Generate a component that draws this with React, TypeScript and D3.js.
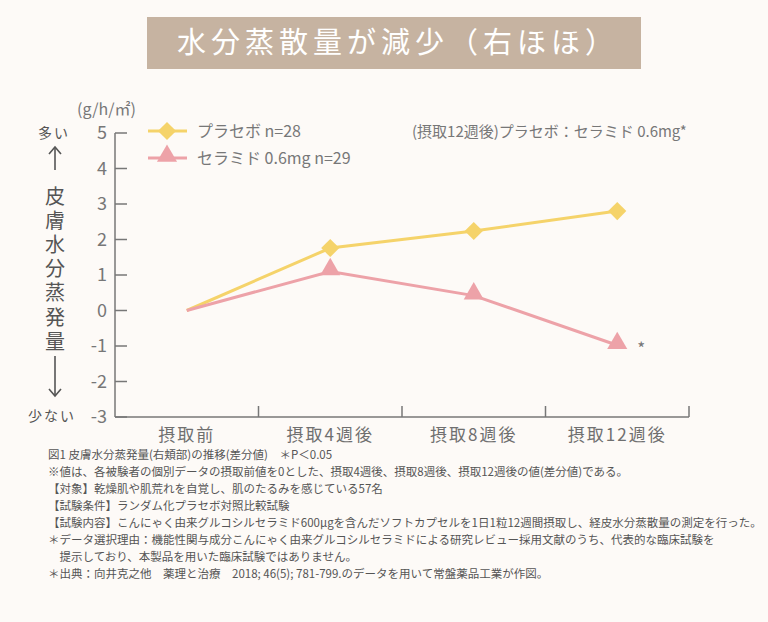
import { useRef, useEffect } from "react";
import * as d3 from "d3";

const categories = ["摂取前", "摂取4週後", "摂取8週後", "摂取12週後"];
const placeboValues = [0, 1.76, 2.24, 2.8];
const ceramideValues = [0, 1.1, 0.42, -0.98];
const yTicks = [-3, -2, -1, 0, 1, 2, 3, 4, 5];
const seriesNames = ["プラセボ n=28", "セラミド 0.6mg n=29"];
const yLabel = "皮膚水分蒸発量";
const footnotes = [
  "図1 皮膚水分蒸発量(右頬部)の推移(差分値)　＊P＜0.05",
  "※値は、各被験者の個別データの摂取前値を0とした、摂取4週後、摂取8週後、摂取12週後の値(差分値)である。",
  "【対象】乾燥肌や肌荒れを自覚し、肌のたるみを感じている57名",
  "【試験条件】ランダム化プラセボ対照比較試験",
  "【試験内容】こんにゃく由来グルコシルセラミド600μgを含んだソフトカプセルを1日1粒12週間摂取し、経皮水分蒸散量の測定を行った。",
  "＊データ選択理由：機能性関与成分こんにゃく由来グルコシルセラミドによる研究レビュー採用文献のうち、代表的な臨床試験を",
  "　提示しており、本製品を用いた臨床試験ではありません。",
  "＊出典：向井克之他　薬理と治療　2018; 46(5); 781-799.のデータを用いて常盤薬品工業が作図。",
];

const W = 768;
const H = 622;
const FONT = "'Noto Sans CJK JP', 'Noto Sans', sans-serif";
const YELLOW = "#f5d36a";
const PINK = "#eda2a8";
const GRAY = "#777";

export default function App() {
  const svgRef = useRef<SVGSVGElement>(null);

  useEffect(() => {
    if (!svgRef.current) return;
    const svg = d3.select(svgRef.current);
    svg.selectAll("*").remove();

    svg.append("rect").attr("width", W).attr("height", H).attr("fill", "#fdfaf7");

    // Title banner
    svg.append("rect")
      .attr("x", 147).attr("y", 17).attr("width", 494).attr("height", 52)
      .attr("fill", "#c6b3a1");
    svg.append("text")
      .attr("x", 398).attr("y", 53)
      .attr("text-anchor", "middle")
      .attr("fill", "#fff")
      .attr("font-family", FONT)
      .attr("font-size", "29px")
      .attr("letter-spacing", "5px")
      .text("水分蒸散量が減少（右ほほ）");

    // Scales
    const x = d3.scaleBand<string>().domain(categories).range([115, 689]).paddingInner(0).paddingOuter(0);
    const cx = (c: string) => (x(c) as number) + x.bandwidth() / 2;
    const y = d3.scaleLinear().domain([-3, 5]).range([417, 133]);

    const g = svg.append("g").attr("font-family", FONT);

    // Y axis
    g.append("line")
      .attr("x1", 115).attr("x2", 115).attr("y1", y(5)).attr("y2", y(-3))
      .attr("stroke", GRAY).attr("stroke-width", 1.5);
    g.selectAll(".ytick")
      .data(yTicks)
      .join("line")
      .attr("x1", 115).attr("x2", 127)
      .attr("y1", d => y(d)).attr("y2", d => y(d))
      .attr("stroke", GRAY).attr("stroke-width", 1.5);
    g.selectAll(".ylab")
      .data(yTicks)
      .join("text")
      .attr("x", 107)
      .attr("y", d => y(d) + 6)
      .attr("text-anchor", "end")
      .attr("fill", GRAY)
      .attr("font-size", "18px")
      .text(d => `${d}`);

    // X axis
    g.append("line")
      .attr("x1", 115).attr("x2", 689).attr("y1", y(-3)).attr("y2", y(-3))
      .attr("stroke", GRAY).attr("stroke-width", 1.5);
    g.selectAll(".xtick")
      .data(categories)
      .join("line")
      .attr("x1", d => (x(d) as number) + x.bandwidth())
      .attr("x2", d => (x(d) as number) + x.bandwidth())
      .attr("y1", y(-3)).attr("y2", y(-3) - 11)
      .attr("stroke", GRAY).attr("stroke-width", 1.5);
    g.selectAll(".xlab")
      .data(categories)
      .join("text")
      .attr("x", d => cx(d))
      .attr("y", 441)
      .attr("text-anchor", "middle")
      .attr("fill", "#6f6f6f")
      .attr("font-size", "17px")
      .attr("letter-spacing", "2px")
      .text(d => d);

    // Units and y label column
    g.append("text")
      .attr("x", 77).attr("y", 115)
      .attr("fill", GRAY).attr("font-size", "16px")
      .text("(g/h/㎡)");
    g.append("text")
      .attr("x", 54).attr("y", 138)
      .attr("text-anchor", "middle")
      .attr("fill", "#555").attr("font-size", "14px")
      .attr("letter-spacing", "2px")
      .text("多い");
    g.append("text")
      .attr("x", 52).attr("y", 421)
      .attr("text-anchor", "middle")
      .attr("fill", "#555").attr("font-size", "14px")
      .attr("letter-spacing", "2px")
      .text("少ない");
    g.append("text")
      .attr("x", 55)
      .attr("y", 186)
      .attr("writing-mode", "vertical-rl")
      .attr("fill", "#555")
      .attr("font-size", "20px")
      .attr("letter-spacing", "4.2px")
      .text(yLabel);
    // arrows
    const arrow = (y1: number, y2: number) => {
      g.append("line")
        .attr("x1", 55).attr("x2", 55).attr("y1", y1).attr("y2", y2)
        .attr("stroke", "#555").attr("stroke-width", 1.6);
      const dir = y2 < y1 ? 1 : -1;
      g.append("path")
        .attr("d", `M${49},${y2 + dir * 7}L55,${y2}L${61},${y2 + dir * 7}`)
        .attr("fill", "none").attr("stroke", "#555").attr("stroke-width", 1.6);
    };
    arrow(170, 147);
    arrow(356, 396);

    // Lines + markers
    const line = d3.line<number>()
      .x((_, i) => cx(categories[i]))
      .y(d => y(d));

    const diamond = d3.symbol().type(d3.symbolDiamond2).size(210);
    const triangle = d3.symbol().type(d3.symbolTriangle).size(175);

    g.append("path").datum(placeboValues)
      .attr("d", line).attr("fill", "none").attr("stroke", YELLOW).attr("stroke-width", 3);
    g.append("path").datum(ceramideValues)
      .attr("d", line).attr("fill", "none").attr("stroke", PINK).attr("stroke-width", 3);

    g.selectAll(".pmark")
      .data(placeboValues.slice(1))
      .join("path")
      .attr("d", diamond() as string)
      .attr("transform", (d, i) => `translate(${cx(categories[i + 1])},${y(d)})`)
      .attr("fill", YELLOW);
    g.selectAll(".cmark")
      .data(ceramideValues.slice(1))
      .join("path")
      .attr("d", triangle() as string)
      .attr("transform", (d, i) => `translate(${cx(categories[i + 1])},${y(d) - 2})`)
      .attr("fill", PINK);

    // significance asterisk
    g.append("text")
      .attr("x", cx(categories[3]) + 20)
      .attr("y", y(ceramideValues[3]) + 10)
      .attr("fill", GRAY).attr("font-size", "17px")
      .text("*");

    // Legend
    const legendColors = [YELLOW, PINK];
    const legendSymbols = [diamond, triangle];
    seriesNames.forEach((name, i) => {
      const ly = 131 + i * 27;
      g.append("line")
        .attr("x1", 148).attr("x2", 187).attr("y1", ly).attr("y2", ly)
        .attr("stroke", legendColors[i]).attr("stroke-width", 3);
      g.append("path")
        .attr("d", legendSymbols[i]() as string)
        .attr("transform", `translate(167,${ly - (i === 1 ? 2 : 0)})`)
        .attr("fill", legendColors[i]);
      g.append("text")
        .attr("x", 197).attr("y", ly + 6)
        .attr("fill", GRAY).attr("font-size", "16px")
        .text(name);
    });

    g.append("text")
      .attr("x", 412).attr("y", 137)
      .attr("fill", GRAY).attr("font-size", "15px")
      .text("(摂取12週後)プラセボ：セラミド 0.6mg*");

    // Footnotes
    g.selectAll(".foot")
      .data(footnotes)
      .join("text")
      .attr("x", 48)
      .attr("y", (_, i) => 459 + i * 17)
      .attr("fill", "#555")
      .attr("font-size", "11.5px")
      .text(d => d);
  }, []);

  return (
    <div style={{ position: "absolute", left: 0, top: 0 }}>
      <svg ref={svgRef} width={W} height={H} style={{ display: "block" }} />
    </div>
  );
}
